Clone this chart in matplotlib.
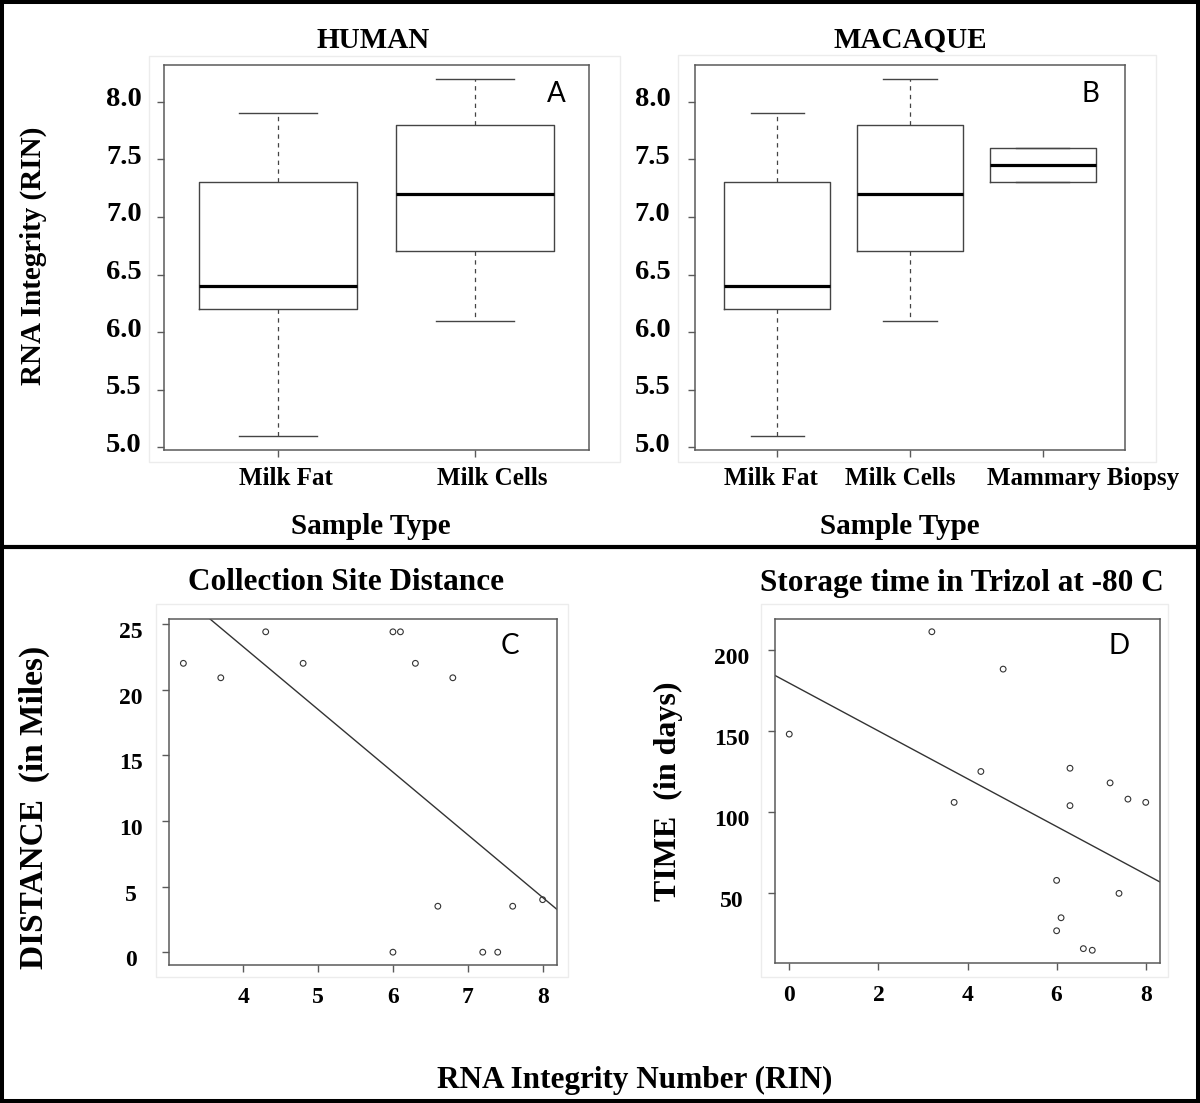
import numpy as np
import matplotlib
matplotlib.use("Agg")
import matplotlib.pyplot as plt
from matplotlib.patches import Rectangle
from matplotlib.lines import Line2D
from matplotlib.transforms import ScaledTranslation

# ---- data ----
human_groups = ["Milk Fat", "Milk Cells"]
human_whislo = [5.1, 6.1]
human_q1 = [6.2, 6.7]
human_med = [6.4, 7.2]
human_q3 = [7.3, 7.8]
human_whishi = [7.9, 8.2]

macaque_groups = ["Milk Fat", "Milk Cells", "Mammary Biopsy"]
macaque_whislo = [5.1, 6.1, 7.3]
macaque_q1 = [6.2, 6.7, 7.3]
macaque_med = [6.4, 7.2, 7.45]
macaque_q3 = [7.3, 7.8, 7.6]
macaque_whishi = [7.9, 8.2, 7.6]

rin_ticks = [5.0, 5.5, 6.0, 6.5, 7.0, 7.5, 8.0]

dist_rin = [3.2, 3.7, 4.3, 4.8, 6.0, 6.1, 6.3, 6.8, 6.6, 7.6, 8.0, 6.0, 7.2, 7.4]
dist_miles = [22.0, 20.9, 24.4, 22.0, 24.4, 24.4, 22.0, 20.9, 3.5, 3.5, 4.0, 0.0, 0.0, 0.0]

time_rin = [0.0, 3.2, 4.8, 3.7, 4.3, 6.3, 6.3, 7.2, 7.6, 8.0, 6.0, 7.4, 6.1, 6.0, 6.6, 6.8]
time_days = [148, 211, 188, 106, 125, 127, 104, 118, 108, 106, 58, 50, 35, 27, 16, 15]

W, H = 1200, 1103
SERIF = "Liberation Serif"
GRAY = "#5a5a5a"


def fx(x):
    return x / W


def fy(y):
    return 1 - y / H


def box_ax(x0, y0, x1, y1):
    return fig.add_axes([fx(x0), fy(y1), fx(x1 - x0), (y1 - y0) / H])


def r_range(vals):
    lo, hi = min(vals), max(vals)
    d = (hi - lo) * 0.04
    return lo - d, hi + d


def style_axes(ax):
    for sp in ax.spines.values():
        sp.set_color(GRAY)
        sp.set_linewidth(1.1)
    ax.tick_params(color=GRAY, width=1.0, length=5)


def shift_labels(labels, dx_px=0, dy_px=0):
    for lab in labels:
        lab.set_transform(lab.get_transform() +
                          ScaledTranslation(dx_px / 100, dy_px / 100, fig.dpi_scale_trans))


def boxpanel(ax, groups, wl, q1, med, q3, wh, ypad, xoffs):
    stats = []
    for i in range(len(groups)):
        stats.append(dict(whislo=wl[i], q1=q1[i], med=med[i], q3=q3[i], whishi=wh[i], fliers=[]))
    pos = np.arange(1, len(groups) + 1)
    ax.bxp(stats, positions=pos, widths=0.8, showfliers=False,
           boxprops=dict(color="#444444", linewidth=1.0),
           medianprops=dict(color="black", linewidth=2.3),
           whiskerprops=dict(color="#444444", linewidth=0.9, linestyle=(0, (3.5, 3.5))),
           capprops=dict(color="#444444", linewidth=1.0),
           capwidths=0.4)
    ax.set_xlim(*r_range([0.5, len(groups) + 0.5]))
    ax.set_ylim(*r_range(wl + wh))
    style_axes(ax)
    ax.set_yticks(rin_ticks)
    ax.set_yticklabels([f"{t:.1f}" for t in rin_ticks], fontfamily=SERIF,
                       fontweight="bold", fontsize=20.5, ha="center")
    ax.tick_params(axis="y", pad=ypad)
    ax.set_xticks(pos)
    ax.set_xticklabels(groups, fontfamily=SERIF, fontweight="bold", fontsize=18)
    ax.tick_params(axis="x", pad=7)
    shift_labels(ax.get_yticklabels(), dy_px=5)
    for lab, dx in zip(ax.get_xticklabels(), xoffs):
        shift_labels([lab], dx_px=dx)


def scatterpanel(ax, x, y, xticks, yticks, ypad):
    ax.scatter(x, y, s=17, facecolors="none", edgecolors="#333333", linewidths=0.8, zorder=3)
    m, b = np.polyfit(x, y, 1)
    ax.axline((0, b), slope=m, color="#333333", linewidth=1.0)
    ax.set_xlim(*r_range(x))
    ax.set_ylim(*r_range(y))
    style_axes(ax)
    ax.set_xticks(xticks)
    ax.set_xticklabels([str(t) for t in xticks], fontfamily=SERIF, fontweight="bold", fontsize=17)
    ax.set_yticks(yticks)
    ax.set_yticklabels([str(t) for t in yticks], fontfamily=SERIF, fontweight="bold",
                       fontsize=17, ha="center")
    ax.tick_params(axis="y", pad=ypad)
    ax.tick_params(axis="x", pad=11)
    shift_labels(ax.get_yticklabels(), dy_px=-6)


fig = plt.figure(figsize=(W / 100, H / 100), dpi=100)

# faint panel frames
for x0, y0, x1, y1 in [(149, 56, 620, 462), (678, 55, 1156, 462),
                       (156, 604, 568, 977), (761, 604, 1168, 977)]:
    fig.patches.append(Rectangle((fx(x0), fy(y1)), fx(x1 - x0), (y1 - y0) / H,
                                 transform=fig.transFigure, fill=False,
                                 edgecolor="#ececec", linewidth=1.0))

axA = box_ax(164, 64.5, 589, 450)
boxpanel(axA, human_groups, human_whislo, human_q1, human_med, human_q3, human_whishi,
         ypad=23.8, xoffs=[8, 17])
axB = box_ax(695, 64.5, 1125, 450)
boxpanel(axB, macaque_groups, macaque_whislo, macaque_q1, macaque_med, macaque_q3,
         macaque_whishi, ypad=25.6, xoffs=[-6, -10, 40])

axC = box_ax(169, 619, 557, 965)
scatterpanel(axC, dist_rin, dist_miles, [4, 5, 6, 7, 8], [0, 5, 10, 15, 20, 25], ypad=22.5)
axD = box_ax(775, 619, 1160, 963)
scatterpanel(axD, time_rin, time_days, [0, 2, 4, 6, 8], [50, 100, 150, 200], ypad=26.4)


def ftext(x, y, s, size, rot=0, family=SERIF, weight="bold"):
    fig.text(fx(x), fy(y), s, fontsize=size, fontfamily=family, fontweight=weight,
             rotation=rot, ha="center", va="center")


ftext(373, 40, "HUMAN", 21)
ftext(910, 40, "MACAQUE", 21)
ftext(371, 527, "Sample Type", 21)
ftext(900, 527, "Sample Type", 21)
ftext(33, 256, "RNA Integrity (RIN)", 21, rot=90)
ftext(556, 94, "A", 20, family="Lato", weight="normal")
ftext(1090, 94, "B", 20, family="Lato", weight="normal")
ftext(510, 646, "C", 20, family="Lato", weight="normal")
ftext(1119, 646, "D", 20, family="Lato", weight="normal")
ftext(346, 583, "Collection Site Distance", 22.5)
ftext(962, 583, "Storage time in Trizol at -80 C", 22.5)
ftext(34, 807, "DISTANCE  (in Miles)", 24, rot=90)
ftext(668, 791, "TIME  (in days)", 23, rot=90)
ftext(635, 1080, "RNA Integrity Number (RIN)", 22.5)

# outer border and divider
fig.patches.append(Rectangle((fx(2), fy(1101)), fx(1196), 1099 / H, transform=fig.transFigure,
                             fill=False, edgecolor="black", linewidth=2.9))
fig.lines.append(Line2D([0, 1], [fy(547), fy(547)], transform=fig.transFigure,
                        color="black", linewidth=3.0))

fig.savefig("out.png", dpi=100)
